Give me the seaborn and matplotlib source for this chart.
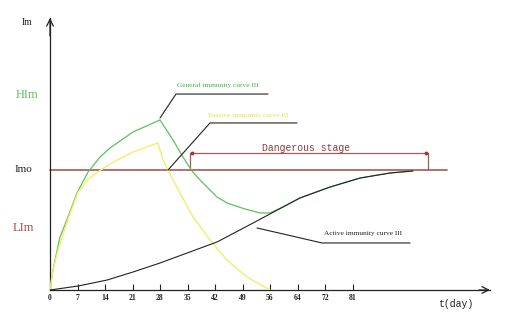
import matplotlib
matplotlib.use("Agg")
import matplotlib.pyplot as plt
import seaborn as sns
import pandas as pd

# ---- data (x in tick-index units, y in units where Imo = 1) ----
tick_labels = ["0", "7", "14", "21", "28", "35", "42", "49", "56", "64", "72", "81"]

general_x = [0, 0.073, 0.182, 0.364, 0.655, 0.982, 1.382, 1.818, 2.182, 3.018, 4.0,
             4.473, 4.836, 5.164, 5.455, 6.073, 6.436, 7.091, 7.636, 8.0, 8.473,
             9.091, 10.182, 11.273, 12.364, 13.2]
general_y = [0, 0.125, 0.25, 0.442, 0.608, 0.808, 0.983, 1.108, 1.183, 1.317, 1.417,
             1.25, 1.108, 0.992, 0.917, 0.775, 0.725, 0.675, 0.642, 0.642, 0.692,
             0.767, 0.858, 0.933, 0.975, 0.992]

passive_x = [0, 0.109, 0.291, 0.655, 1.018, 1.382, 1.745, 2.255, 3.018, 3.927,
             4.109, 4.291, 4.727, 5.2, 5.818, 6.436, 7.164, 8.0]
passive_y = [0, 0.167, 0.333, 0.590, 0.815, 0.920, 0.985, 1.06, 1.15, 1.225,
             1.083, 1.0, 0.808, 0.608, 0.417, 0.25, 0.108, 0.0]

active_x = [0, 1.018, 2.073, 3.018, 4.0, 4.982, 6.073, 7.382, 8.473, 9.091,
            10.182, 11.273, 12.364, 13.2]
active_y = [0, 0.033, 0.083, 0.15, 0.225, 0.308, 0.4, 0.558, 0.692, 0.767,
            0.858, 0.933, 0.975, 0.992]

imo_level = 1.0
danger_start, danger_end, danger_top = 5.1, 13.745, 1.142

# ---- figure ----
sns.set_theme(style="white")
plt.rcParams['font.family'] = ['Liberation Serif', 'DejaVu Serif']

fig = plt.figure(figsize=(5.13, 3.26), dpi=100)
fig.patch.set_facecolor("white")
ax = fig.add_axes([50 / 513, 36 / 326, 440 / 513, 272 / 326])
ax.set_facecolor("white")
ax.set_xlim(0, 16.0)
ax.set_ylim(0, 272 / 120)

green = "#5cc25c"
yellow = "#f2ee6a"
black = "#222222"
red = "#a45a58"

# Imo line
ax.plot([0, 14.436], [imo_level, imo_level], color=red, lw=1.2, clip_on=False, zorder=2)

# curves
sns.lineplot(x=general_x, y=general_y, ax=ax, color=green, lw=0.9, sort=False,
             estimator=None, zorder=3)
sns.lineplot(x=passive_x, y=passive_y, ax=ax, color=yellow, lw=1.0, sort=False,
             estimator=None, zorder=3)
sns.lineplot(x=active_x, y=active_y, ax=ax, color=black, lw=0.8, sort=False,
             estimator=None, zorder=4)

# dangerous stage box
ax.plot([danger_start, danger_start, danger_end, danger_end],
        [imo_level, danger_top, danger_top, imo_level], color=red, lw=0.9, zorder=2)
ax.plot([danger_start + 0.08, danger_end - 0.08], [danger_top, danger_top], ls="none",
        marker="o", ms=1.8, color="#b03030", zorder=3)
ax.text((danger_start + danger_end) / 2 - 0.12, danger_top + 0.045, "Dangerous stage",
        family=["Liberation Mono", "DejaVu Sans Mono"], fontsize=7, color="#8b3a3a",
        ha="center", va="center")

# leader lines and labels
ax.plot([4.0, 4.582, 7.927], [1.433, 1.633, 1.633], color=black, lw=0.8)
ax.text(4.62, 1.708, "General immunity curve III", fontsize=5.3, color="#3cb83c",
        ha="left", va="center")
ax.plot([4.291, 5.818, 8.982], [1.0, 1.392, 1.392], color=black, lw=0.8, zorder=5)
ax.text(5.745, 1.458, "Passive immunity curve III", fontsize=5.3, color="#e6e040",
        ha="left", va="center")
ax.plot([7.527, 9.891, 13.091], [0.517, 0.392, 0.392], color=black, lw=0.8)
ax.text(9.96, 0.475, "Active immunity curve III", fontsize=5.3, color=black,
        ha="left", va="center")

# axis labels at left
ax.text(-0.836, 2.233, "Im", fontsize=7, color=black, ha="center", va="center", clip_on=False)
ax.text(-0.836, 1.625, "HIm", fontsize=9, color="#5cbf5c", ha="center", va="center", clip_on=False)
ax.text(-0.98, 1.0, "Imo", fontsize=8, color=black, ha="center", va="center", clip_on=False)
ax.text(-0.98, 0.52, "LIm", fontsize=9, color="#a0504a", ha="center", va="center", clip_on=False)
ax.text(14.76, -0.117, "t(day)", family=["Liberation Mono", "DejaVu Sans Mono"],
        fontsize=7, color=black, ha="center", va="center", clip_on=False)

# axes
for s in ["top", "right"]:
    ax.spines[s].set_visible(False)
for s in ["left", "bottom"]:
    ax.spines[s].set_color(black)
    ax.spines[s].set_linewidth(0.9)
ax.annotate("", xy=(0, 272 / 120), xytext=(0, 272 / 120 - 0.15),
            arrowprops=dict(arrowstyle="->", color=black, lw=0.9, shrinkA=0, shrinkB=0),
            annotation_clip=False)
ax.annotate("", xy=(16.0, 0), xytext=(15.6, 0),
            arrowprops=dict(arrowstyle="->", color=black, lw=0.9, shrinkA=0, shrinkB=0),
            annotation_clip=False)

ax.set_xticks(range(len(tick_labels)))
ax.set_xticklabels(tick_labels, fontsize=5.5, fontweight="bold")
ax.tick_params(axis="x", direction="in", length=4, width=0.8, color=black, pad=3,
               bottom=True, labelcolor=black)
ax.set_yticks([])
ax.set_xlabel("")
ax.set_ylabel("")

fig.savefig("out.png", dpi=100, facecolor="white")
